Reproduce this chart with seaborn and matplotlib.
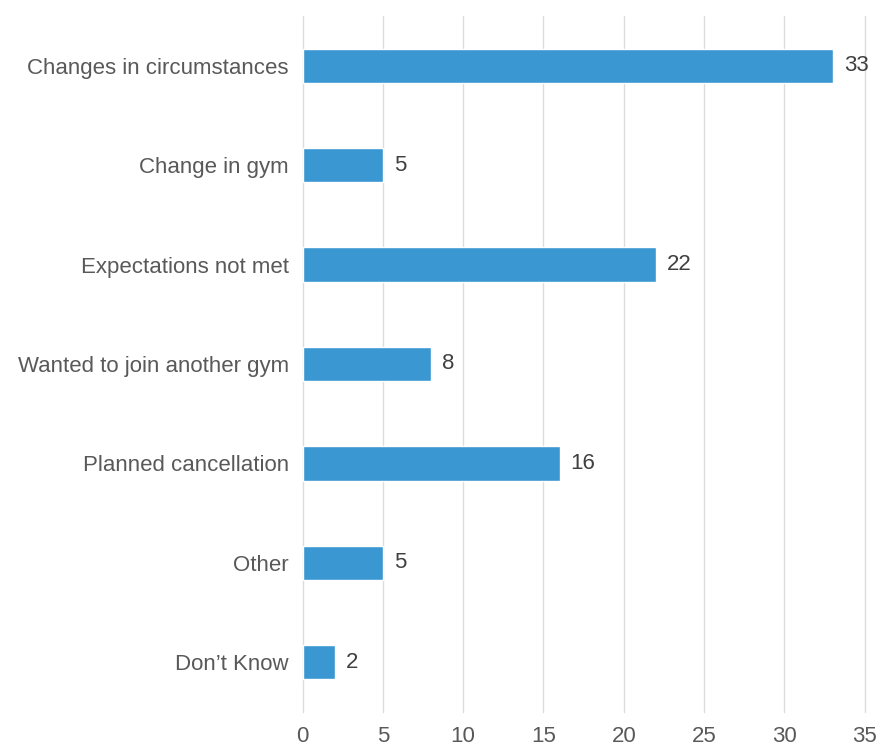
import matplotlib
matplotlib.use("Agg")
import matplotlib.pyplot as plt
import seaborn as sns
import pandas as pd

reasons = [
    "Changes in circumstances",
    "Change in gym",
    "Expectations not met",
    "Wanted to join another gym",
    "Planned cancellation",
    "Other",
    "Don\u2019t Know",
]
counts = [33, 5, 22, 8, 16, 5, 2]
x_ticks = [0, 5, 10, 15, 20, 25, 30, 35]

df = pd.DataFrame({"reason": reasons, "count": counts})

sns.set_theme(style="white")
plt.rcParams["font.family"] = ["Liberation Sans", "DejaVu Sans"]

fig = plt.figure(figsize=(8.77, 7.47), dpi=100)
ax = fig.add_axes([0.345, 0.047, 0.641, 0.9316])

sns.barplot(data=df, x="count", y="reason", orient="h", color="#3A97D2",
            saturation=1, width=0.345, ax=ax, zorder=3)

ax.set_xlim(0, 35)
ax.set_ylim(len(reasons) - 0.5, -0.5)
ax.set_xticks(x_ticks)
ax.set_xticklabels([str(t) for t in x_ticks])
ax.xaxis.grid(True, color="#DCDCDC", linewidth=1.0, zorder=0)
for gl in ax.get_xgridlines():
    gl.set_clip_on(False)
ax.yaxis.grid(False)
ax.set_axisbelow(True)
for s in ax.spines.values():
    s.set_visible(False)

ax.set_xlabel("")
ax.set_ylabel("")
ax.tick_params(axis="y", length=0, pad=10, labelsize=16, labelcolor="#595959")
ax.tick_params(axis="x", length=0, pad=10, labelsize=16, labelcolor="#595959")

for i, v in enumerate(counts):
    ax.annotate(str(v), xy=(v, i), xytext=(8, 0), textcoords="offset points",
                va="center", ha="left", fontsize=16, color="#404040")

fig.savefig("out.png", dpi=100)
